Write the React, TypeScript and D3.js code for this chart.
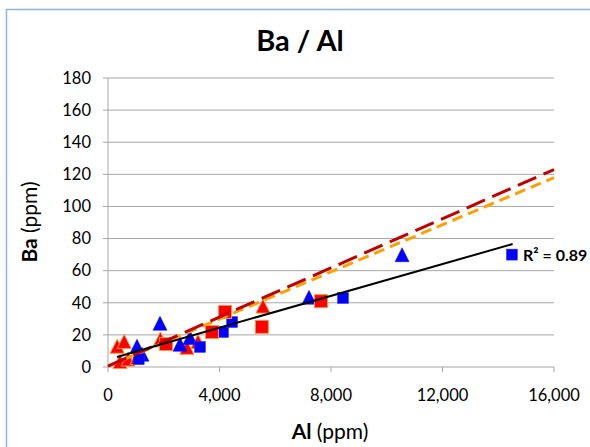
import React from "react";
import * as d3 from "d3";

const W = 590;
const H = 447;

const xTicks = [0, 4000, 8000, 12000, 16000];
const yTicks = [0, 20, 40, 60, 80, 100, 120, 140, 160, 180];

const blueSquares: [number, number][] = [
  [1100, 5],
  [3300, 12.5],
  [4125, 21.8],
  [4450, 28],
  [8430, 43],
  [14490, 70],
];
const blueTriangles: [number, number][] = [
  [1040, 12.5],
  [1220, 7.5],
  [1865, 26.8],
  [2580, 13.7],
  [2940, 18],
  [7210, 43],
  [10550, 69.5],
];
const redSquares: [number, number][] = [
  [2080, 14.3],
  [3730, 21.8],
  [4200, 34.3],
  [5520, 25],
  [7640, 41],
];
const redTriangles: [number, number][] = [
  [330, 12.5],
  [580, 15.5],
  [430, 3],
  [720, 4.5],
  [1040, 5.5],
  [1880, 17],
  [2830, 11.8],
  [3230, 15.5],
  [5560, 37.5],
];

const blackTrend: [number, number][] = [[323, 6.2], [14516, 76.6]];
const redTrend: [number, number][] = [[0, 0.5], [16000, 123]];
const orangeTrend: [number, number][] = [[0, 0.5], [16000, 118]];

const r2Label = "R² = 0.89";

const FONT = "Lato, 'Open Sans', sans-serif";

export default function App() {
  const x = d3.scaleLinear().domain([0, 16000]).range([108, 554]);
  const y = d3.scaleLinear().domain([0, 180]).range([367, 78]);
  const fmt = d3.format(",");
  const line = d3
    .line<[number, number]>()
    .x((d) => x(d[0]))
    .y((d) => y(d[1]));

  const tri = (cx: number, cy: number, s: number) =>
    `M${cx},${cy - s * 0.55} L${cx + s / 2},${cy + s * 0.45} L${cx - s / 2},${cy + s * 0.45} Z`;

  return (
    <svg
      width={W}
      height={H}
      style={{ position: "absolute", left: 0, top: 0, background: "#fff" }}
      fontFamily={FONT}
    >
      <rect x={6.5} y={9.5} width={700} height={600} fill="#fff" stroke="#8eb4e3" strokeWidth={1.5} />
      <text x={300} y={51} textAnchor="middle" fontSize={29} fontWeight="bold" fill="#000">
        Ba / Al
      </text>

      {yTicks.map((t) => (
        <line key={"g" + t} x1={x(0)} x2={x(16000)} y1={y(t)} y2={y(t)} stroke="#a6a6a6" strokeWidth={1} />
      ))}
      <line x1={x(0)} x2={x(0)} y1={y(0)} y2={y(180)} stroke="#a6a6a6" />
      {yTicks.map((t) => (
        <g key={"yt" + t}>
          <line x1={x(0) - 5} x2={x(0)} y1={y(t)} y2={y(t)} stroke="#a6a6a6" />
          <text x={91} y={y(t)} dy="0.35em" textAnchor="end" fontSize={16.5} fill="#000">
            {t}
          </text>
        </g>
      ))}
      {xTicks.map((t) => (
        <g key={"xt" + t}>
          <line x1={x(t)} x2={x(t)} y1={y(0)} y2={y(0) + 5} stroke="#a6a6a6" />
          <text x={x(t)} y={401} textAnchor="middle" fontSize={16.5} fill="#000">
            {fmt(t)}
          </text>
        </g>
      ))}
      <text x={330} y={439} textAnchor="middle" fontSize={21} fill="#000">
        <tspan fontWeight="bold">Al</tspan> (ppm)
      </text>
      <text transform={`translate(37,222) rotate(-90)`} textAnchor="middle" fontSize={21} fill="#000">
        <tspan fontWeight="bold">Ba</tspan> (ppm)
      </text>

      {redTriangles.map((d, i) => (
        <path key={"rt" + i} d={tri(x(d[0]), y(d[1]), 14)} fill="#ff0000" stroke="#f79646" strokeWidth={1} />
      ))}
      {blueTriangles.map((d, i) => (
        <path key={"bt" + i} d={tri(x(d[0]), y(d[1]), 14)} fill="#0000ff" stroke="#0000ff" strokeWidth={0.5} />
      ))}
      {blueSquares.map((d, i) => (
        <rect key={"bs" + i} x={x(d[0]) - 5.5} y={y(d[1]) - 5.5} width={11} height={11} fill="#0000ff" stroke="#3333ff" strokeWidth={0.5} />
      ))}
      {redSquares.map((d, i) => (
        <rect key={"rs" + i} x={x(d[0]) - 6.5} y={y(d[1]) - 6.5} width={13} height={13} fill="#ff0000" stroke="#f79646" strokeWidth={1} />
      ))}

      <path d={line(orangeTrend) || ""} fill="none" stroke="#ffa000" strokeWidth={3} strokeDasharray="11 6" />
      <path d={line(redTrend) || ""} fill="none" stroke="#c00000" strokeWidth={3} strokeDasharray="20 8" />
      <path d={line(blackTrend) || ""} fill="none" stroke="#000" strokeWidth={2} />

      <text x={523} y={261} fontSize={16} fontWeight="bold" fill="#000">
        {r2Label}
      </text>
    </svg>
  );
}
